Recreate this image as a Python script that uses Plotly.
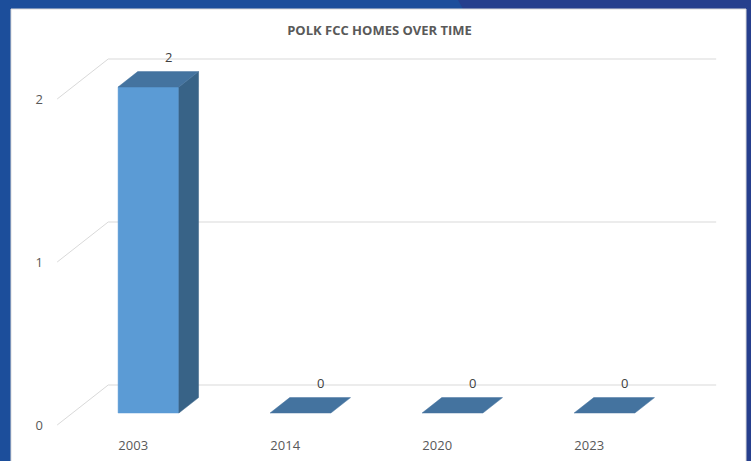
import plotly.graph_objects as go

# ---- data ----
categories = ["2003", "2014", "2020", "2023"]
homes = [2, 0, 0, 0]
y_ticks = [0, 1, 2]
title_text = "POLK FCC HOMES OVER TIME"

# ---- canvas / projection settings ----
W, H = 751, 461
ML, MR, MT, MB = 50, 21, 40, 29
X_RANGE = [-0.5474, 3.9263]
Y_RANGE = [-0.0429, 2.362]
DX = 0.3355        # oblique depth offset in category units (full depth)
DY = 0.2454        # oblique depth offset in value units (full depth)
BAR_FRONT = 0.30   # bar front plane as fraction of depth
BAR_BACK = 0.685   # bar back plane
BAR_HALF = 0.2     # half bar width in category units
WALL_L, WALL_R = -0.5, 3.5

GRID = "#d9d9d9"
FRONT = "#5b9bd5"
TOP = "#44739f"
SIDE = "#386387"
TXT = "#595959"
FONT = "Open Sans"

fig = go.Figure()

# back-wall gridlines and left-wall diagonals
gx, gy = [], []
for v in y_ticks:
    gx += [WALL_L, WALL_L + DX, WALL_R + DX, None]
    gy += [v, v + DY, v + DY, None]
fig.add_trace(go.Scatter(x=gx, y=gy, mode="lines",
                         line=dict(color=GRID, width=1), hoverinfo="skip"))

# 3D bars
bx = (BAR_BACK - BAR_FRONT) * DX
by = (BAR_BACK - BAR_FRONT) * DY
for i, v in enumerate(homes):
    cx = i + BAR_FRONT * DX
    x0, x1 = cx - BAR_HALF, cx + BAR_HALF
    y0, y1 = BAR_FRONT * DY, v + BAR_FRONT * DY
    faces = []
    if v > 0:
        faces.append(([x0, x1, x1, x0, x0], [y0, y0, y1, y1, y0], FRONT))
        faces.append(([x1, x1 + bx, x1 + bx, x1, x1],
                      [y0, y0 + by, y1 + by, y1, y0], SIDE))
    faces.append(([x0, x1, x1 + bx, x0 + bx, x0],
                  [y1, y1, y1 + by, y1 + by, y1], TOP))
    for fx, fy, col in faces:
        fig.add_trace(go.Scatter(x=fx, y=fy, mode="lines", fill="toself",
                                 fillcolor=col, line=dict(color=col, width=0.5),
                                 hoverinfo="skip"))
    fig.add_annotation(x=i + BAR_BACK * DX, y=v + BAR_BACK * DY, text=str(v),
                       showarrow=False, yanchor="bottom", yshift=4,
                       font=dict(family=FONT, size=13, color="#404040"))

# ---- decoration: blue frame with white panel ----
pw = W - ML - MR
ph = H - MT - MB
def px(x):
    return (x - ML) / pw
def py(y):
    return (H - MB - y) / ph

shapes = [
    dict(type="path", xref="paper", yref="paper", layer="below",
         path=f"M {px(458)},{py(0)} L {px(W)},{py(0)} L {px(W)},{py(H)} "
              f"L {px(700)},{py(H)} L {px(463)},{py(9)} Z",
         fillcolor="#263f8d", line=dict(width=0)),
    dict(type="rect", xref="paper", yref="paper", layer="below",
         x0=px(11), x1=px(746), y0=py(9), y1=py(H + 5),
         fillcolor="white", line=dict(color=GRID, width=1)),
]

fig.update_layout(
    width=W, height=H, autosize=False,
    margin=dict(l=ML, r=MR, t=MT, b=MB, pad=0, autoexpand=False),
    paper_bgcolor="#1c4e9b", plot_bgcolor="rgba(0,0,0,0)",
    showlegend=False, shapes=shapes,
    title=dict(text=f"<b>{title_text}</b>", x=379.5 / W, xanchor="center",
               y=1 - 30 / H, yanchor="middle",
               font=dict(family=FONT, size=13, color=TXT)),
    xaxis=dict(range=X_RANGE, tickvals=list(range(len(categories))),
               ticktext=categories, showgrid=False, zeroline=False,
               showline=False, ticks="", fixedrange=True, ticklabelstandoff=4,
               automargin=False,
               tickfont=dict(family=FONT, size=13, color=TXT)),
    yaxis=dict(range=Y_RANGE, tickvals=y_ticks, showgrid=False,
               zeroline=False, showline=False, ticks="", fixedrange=True,
               ticklabelstandoff=6, automargin=False,
               tickfont=dict(family=FONT, size=13, color=TXT)),
)

fig.write_html("out.html", config={"displayModeBar": False},
               post_script="document.body.style.margin='0';"
                           "document.body.style.overflow='hidden';")
